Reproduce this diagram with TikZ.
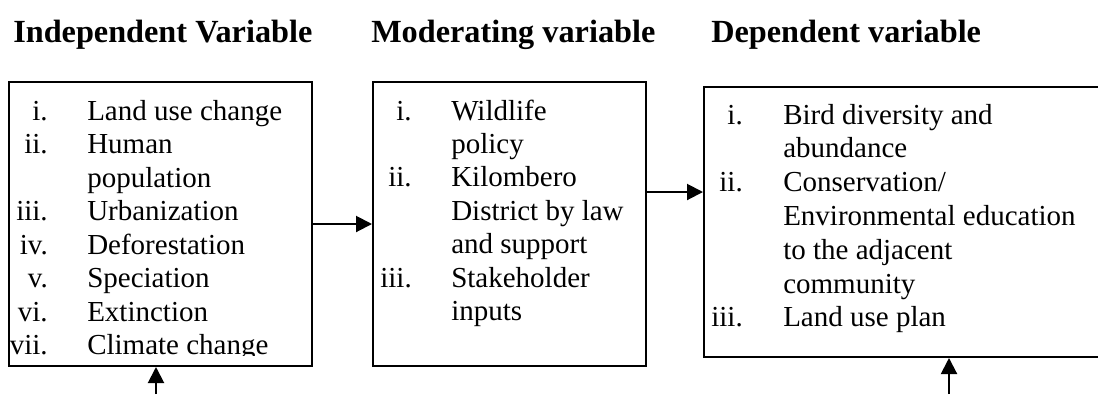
\documentclass[tikz,border=0pt]{standalone}
\usepackage{fontspec}
\setmainfont{Liberation Serif}
\usetikzlibrary{arrows.meta}
\newcommand{\itemrow}[6]{%
  \node[num] (#1n) at (#2,#4) {#5};
  \node[txt] (#1t) at (#3,#4) {#6};}
\newcommand{\wraprow}[4]{%
  \node[txt] (#1t) at (#2,#3) {#4};}
\begin{document}
\begin{tikzpicture}[x=0.75pt,y=-0.75pt,
  box/.style={draw, line width=1.5pt, rectangle, inner sep=0pt},
  arr/.style={line width=1.5pt, -{Triangle[length=12pt,width=12pt]}},
  num/.style={anchor=base east, inner sep=0pt, font=\fontsize{21.75}{25}\selectfont},
  txt/.style={anchor=base west, inner sep=0pt, font=\fontsize{21.75}{25}\selectfont},
  ttl/.style={anchor=base west, inner sep=0pt, font=\fontsize{24.2}{29}\selectfont\bfseries}]
\useasboundingbox (0,0) rectangle (1098,394);
\clip (0,0) rectangle (1098,394);
% titles
\node[ttl] (t1) at (13,42) {Independent Variable};
\node[ttl] (t2) at (371,42) {Moderating variable};
\node[ttl] (t3) at (711,42) {Dependent variable};
% boxes
\node[box, minimum width=227.25pt, minimum height=213pt] (L) at (160.5,224) {};
\node[box, minimum width=204.75pt, minimum height=213pt] (M) at (509.5,224) {};
\node[box, minimum width=304.5pt, minimum height=202.5pt] (R) at (907,222) {};
% left box text
\begin{scope}
\clip (9,82) rectangle (312,355);
\itemrow{l1}{48}{87}{120}{i.}{Land use change}
\itemrow{l2}{48}{87}{153.5}{ii.}{Human}
\wraprow{l3}{87}{187}{population}
\itemrow{l4}{48}{87}{220.5}{iii.}{Urbanization}
\itemrow{l5}{48}{87}{254}{iv.}{Deforestation}
\itemrow{l6}{48}{87}{287.5}{v.}{Speciation}
\itemrow{l7}{48}{87}{321}{vi.}{Extinction}
\itemrow{l8}{48}{87}{354.5}{vii.}{Climate change}
\end{scope}
% middle box text
\itemrow{m1}{412}{451}{120}{i.}{Wildlife}
\wraprow{m2}{451}{153.4}{policy}
\itemrow{m3}{412}{451}{186.8}{ii.}{Kilombero}
\wraprow{m4}{451}{220.2}{District by law}
\wraprow{m5}{451}{253.6}{and support}
\itemrow{m6}{412}{451}{287}{iii.}{Stakeholder}
\wraprow{m7}{451}{320.4}{inputs}
% right box text
\itemrow{r1}{743}{783}{124}{i.}{Bird diversity and}
\wraprow{r2}{783}{157.8}{abundance}
\itemrow{r3}{743}{783}{191.6}{ii.}{Conservation/}
\wraprow{r4}{783}{225.4}{Environmental education}
\wraprow{r5}{783}{259.2}{to the adjacent}
\wraprow{r6}{783}{293}{community}
\itemrow{r7}{743}{783}{326.8}{iii.}{Land use plan}
% connectors
\coordinate (y2) at (0,192);
\coordinate (b1) at (156,394);
\coordinate (b2) at (949,394);
\draw[arr] (L.east) -- (M.west);
\draw[arr] (M.east |- y2) -- (R.west |- y2);
\draw[arr] (b1) -- (b1 |- L.south);
\draw[arr] (b2) -- (b2 |- R.south);
\end{tikzpicture}
\end{document}
